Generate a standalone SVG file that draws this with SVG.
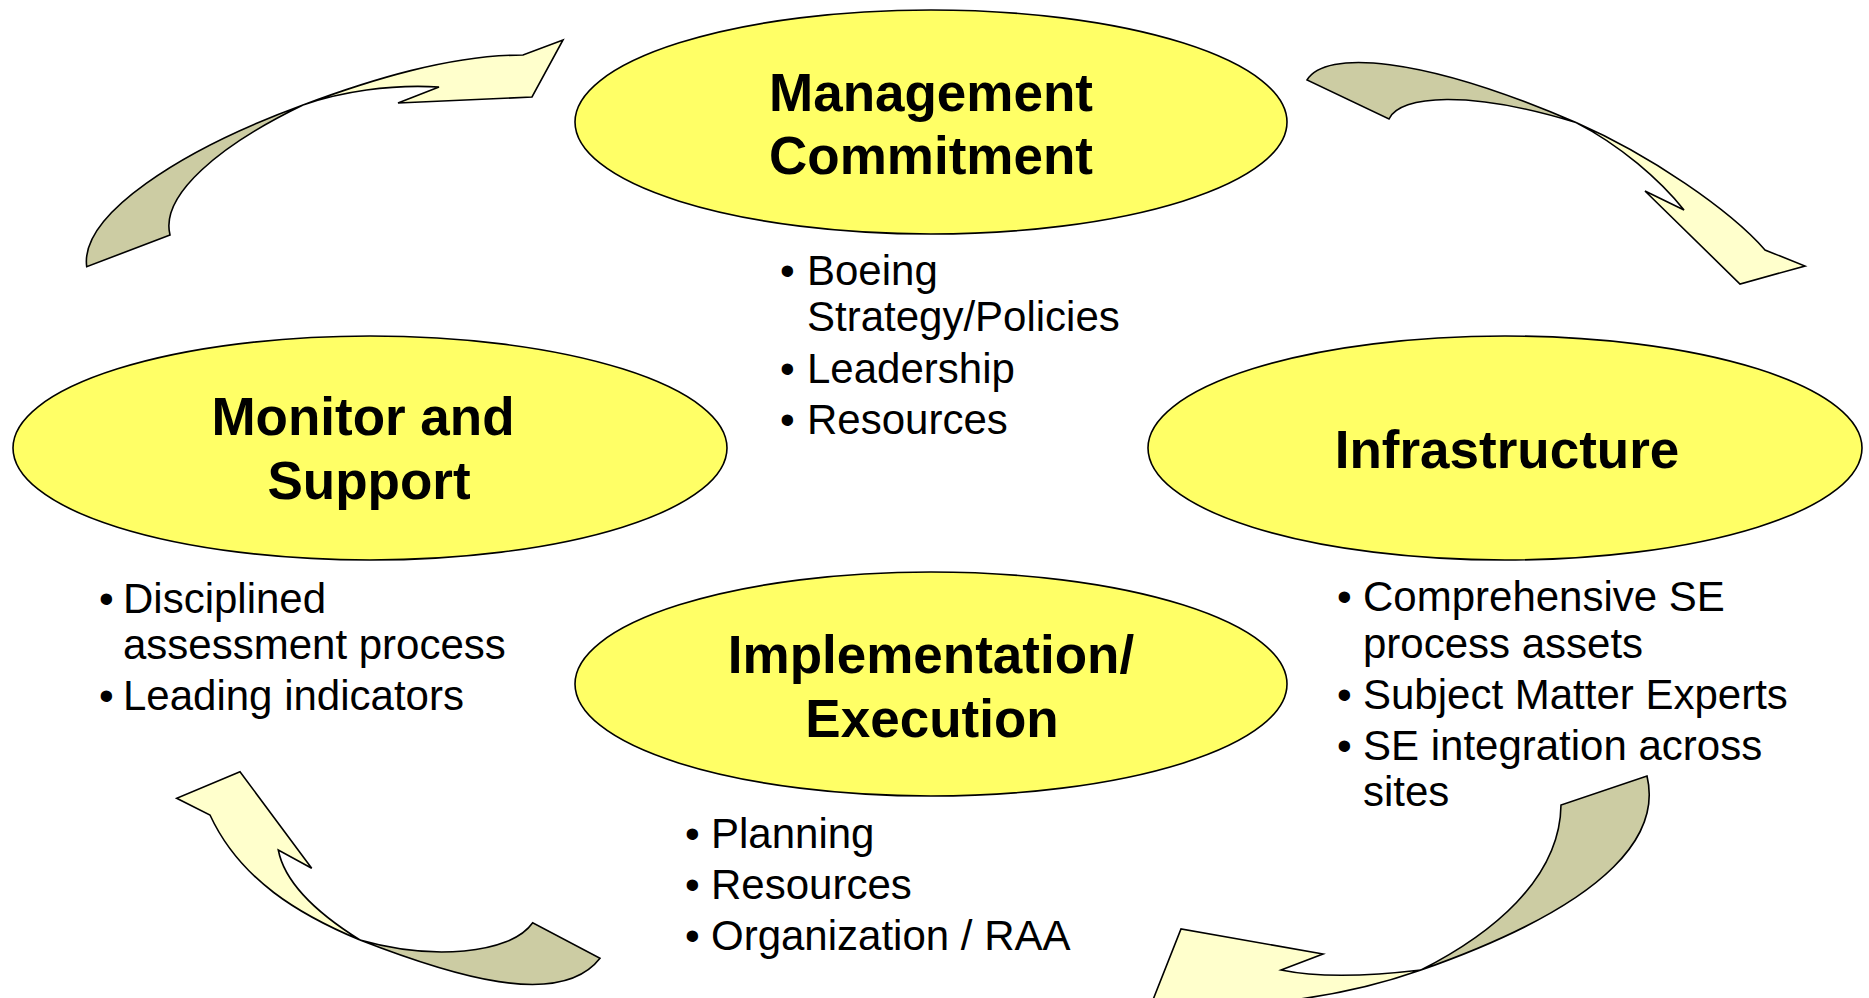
<svg xmlns="http://www.w3.org/2000/svg" width="1869" height="998" viewBox="0 0 1869 998">
<style>
.el{fill:#FFFF66;stroke:#000;stroke-width:1.6}
.lt{fill:#FFFFCC;stroke:#000;stroke-width:1.6;stroke-linejoin:miter}
.dk{fill:#CCCCA3;stroke:#000;stroke-width:1.6;stroke-linejoin:miter}
.ti{font-family:"Liberation Sans",Arial,sans-serif;font-weight:bold;font-size:53px;fill:#000;text-anchor:middle}
.bd{font-family:"Liberation Sans",Arial,sans-serif;font-size:42px;fill:#000}
</style>
<rect width="1869" height="998" fill="#fff"/>
<g id="connectors">
  <g id="arrow-top-left">
    <path class="dk" d="M86.7,266.7 C80,215 180,150 303,105 C220,145 160,195 170,235 Z"/>
    <path class="lt" d="M303,105 C370,80 450,55 523,55 L563,40 L532,97 L398,103 L439,87 C390,84 340,92 303,105 Z"/>
  </g>
  <g id="arrow-top-right">
    <path class="dk" d="M1307,80 C1325,50 1420,55 1576,122.6 C1470,90 1400,95 1389,119 Z"/>
    <path class="lt" d="M1576,122.6 C1650,155 1730,210 1765,250 L1805,266 L1740,284 L1645,191 L1684,210 C1660,180 1620,145 1576,122.6 Z"/>
  </g>
  <g id="arrow-bottom-right">
    <path class="dk" d="M1647,776 C1660,830 1620,900 1421,970 C1490,935 1560,880 1561,805 Z"/>
    <path class="lt" d="M1421,970 C1350,995 1250,1012 1192,999 L1145,1020 L1181,929 L1323,954 L1281,970 C1320,978 1370,976 1421,970 Z"/>
  </g>
  <g id="arrow-bottom-left">
    <path class="lt" d="M360,940 C300,915 240,880 210,815 L176.7,798.3 L240,771.7 L311.7,868.3 L278.3,850 C285,885 320,915 360,940 Z"/>
    <path class="dk" d="M360,940 C450,975 560,1010 600,958.3 L532.7,922.7 C510,955 430,960 360,940 Z"/>
  </g>
</g>
<g id="node-management">
  <ellipse class="el" cx="931" cy="122" rx="356" ry="112"/>
  <text class="ti" x="931" y="111">Management</text>
  <text class="ti" x="931" y="174">Commitment</text>
</g>
<g id="node-monitor">
  <ellipse class="el" cx="370" cy="448" rx="357" ry="112"/>
  <text class="ti" x="363" y="435">Monitor and</text>
  <text class="ti" x="369" y="499">Support</text>
</g>
<g id="node-infrastructure">
  <ellipse class="el" cx="1505" cy="448" rx="357" ry="112"/>
  <text class="ti" x="1507" y="468">Infrastructure</text>
</g>
<g id="node-implementation">
  <ellipse class="el" cx="931" cy="684" rx="356" ry="112"/>
  <text class="ti" x="931" y="673">Implementation/</text>
  <text class="ti" x="932" y="737">Execution</text>
</g>
<g id="text-management">
  <text class="bd" x="780" y="285">•</text><text class="bd" x="807" y="285">Boeing</text>
  <text class="bd" x="807" y="331">Strategy/Policies</text>
  <text class="bd" x="780" y="383">•</text><text class="bd" x="807" y="383">Leadership</text>
  <text class="bd" x="780" y="434">•</text><text class="bd" x="807" y="434">Resources</text>
</g>
<g id="text-monitor">
  <text class="bd" x="99" y="613">•</text><text class="bd" x="123" y="613">Disciplined</text>
  <text class="bd" x="123" y="659">assessment process</text>
  <text class="bd" x="99" y="710">•</text><text class="bd" x="123" y="710">Leading indicators</text>
</g>
<g id="text-infrastructure">
  <text class="bd" x="1337" y="611">•</text><text class="bd" x="1363" y="611">Comprehensive SE</text>
  <text class="bd" x="1363" y="658">process assets</text>
  <text class="bd" x="1337" y="709">•</text><text class="bd" x="1363" y="709">Subject Matter Experts</text>
  <text class="bd" x="1337" y="760">•</text><text class="bd" x="1363" y="760">SE integration across</text>
  <text class="bd" x="1363" y="806">sites</text>
</g>
<g id="text-implementation">
  <text class="bd" x="685" y="848">•</text><text class="bd" x="711" y="848">Planning</text>
  <text class="bd" x="685" y="899">•</text><text class="bd" x="711" y="899">Resources</text>
  <text class="bd" x="685" y="950">•</text><text class="bd" x="711" y="950">Organization / RAA</text>
</g>
</svg>
